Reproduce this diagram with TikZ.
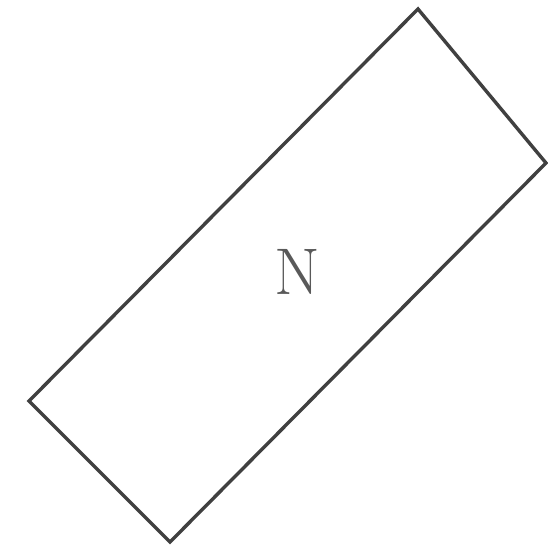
\documentclass[tikz,border=0pt]{standalone}
\begin{document}
\begin{tikzpicture}[x=1pt,y=-1pt,
  outline/.style={draw=black!75,line width=3.4pt,line join=miter},
  label/.style={font=\fontsize{66}{66}\selectfont,text=black!65,inner sep=0pt}]
\useasboundingbox (0,0) rectangle (548,550);
\coordinate (T) at (418,9);
\coordinate (R) at (546,163);
\coordinate (B) at (170,542);
\coordinate (L) at (29,401);
\draw[outline] (T) -- (R) -- (B) -- (L) -- cycle;
\node[label] (n) at (297,272) {N};
\end{tikzpicture}
\end{document}
